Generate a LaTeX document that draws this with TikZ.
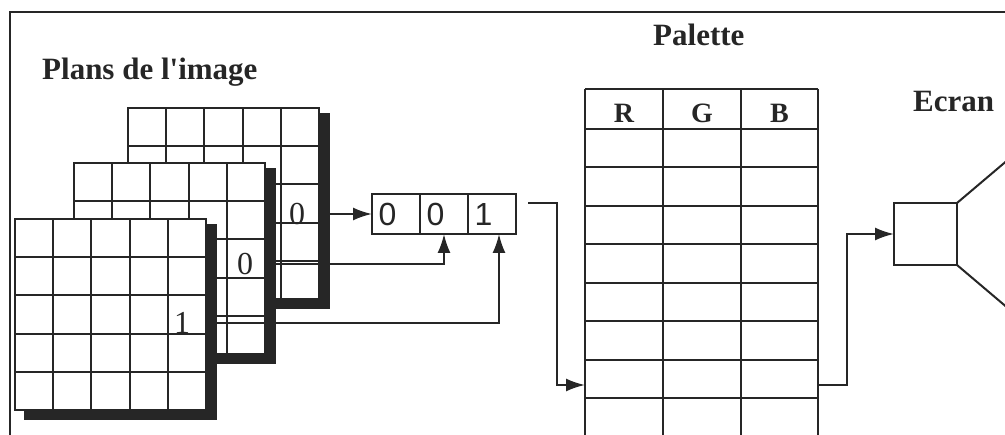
\documentclass[tikz,border=0pt]{standalone}
\usepackage{fontspec}
\setmainfont{Liberation Serif}
\setsansfont{Liberation Sans}
\usetikzlibrary{arrows.meta, positioning, calc}

\tikzset{
  trait/.style={line width=2pt, draw=black!85},
  fleche/.style={line width=2pt, draw=black!85, -{Latex[length=19pt,width=13pt]}},
  titre/.style={font=\fontsize{31}{36}\selectfont\bfseries, inner sep=0pt, text=black!85},
  entete/.style={font=\fontsize{28}{30}\selectfont\bfseries, inner sep=0pt, text=black!85},
  chiffre/.style={font=\fontsize{32}{34}\selectfont, inner sep=0pt, text=black!85},
  case/.style={draw=black!85, line width=2pt, minimum height=40pt, text width=35pt,
    inner xsep=6.5pt, align=left, outer sep=0pt, text=black!85,
    font=\sffamily\fontsize{32}{34}\selectfont},
  ombre/.style={fill=black!85},
}

% one plane of the image: name, x and y of the top left corner
\newcommand{\planimage}[3]{%
  \fill[ombre] (#2+9,#3+5) rectangle (#2+202,#3+201);
  \node[trait, fill=white, minimum size=191pt, inner sep=0pt, outer sep=0pt,
    anchor=north west] (#1) at (#2,#3) {};
  \foreach \k in {1,...,4} {
    \draw[trait] ($(#1.north west)+(\k*38.2,0)$) -- ++(0,191);
    \draw[trait] ($(#1.north west)+(0,\k*38.2)$) -- ++(191,0);
  }
}

\begin{document}
\begin{tikzpicture}[x=1pt, y=-1pt]
        \useasboundingbox (0,0) rectangle (1005,435);
        \clip (0,0) rectangle (1005,435);

        % Draw the frame
        \draw[line width=2.2pt, black!85] (10,440) -- (10,12) -- (1010,12);

        % Draw the planes of the image
        \planimage{plan3}{128}{108}
        \planimage{plan2}{74}{163}
        \planimage{plan1}{15}{219}
        \node[chiffre] (b0) at (297,214) {0};
        \node[chiffre] (m0) at (245,264) {0};
        \node[chiffre] (f1) at (182,323) {1};

        % Draw the pixel value
        \node[case] (r1) at (396,214) {0};
        \node[case, right=0pt of r1] (r2) {0};
        \node[case, right=0pt of r2] (r3) {1};

        \draw[fleche] (b0 -| plan3.east) -- (r1.west);
        \draw[fleche] (m0 -| plan2.east) -| (r2.south);
        \draw[fleche] (f1 -| plan1.east) -| ([xshift=7pt]r3.south);

        % Draw the palette table
        \foreach \x in {585,663,741,818}
            \draw[trait] (\x,89) -- (\x,440);
        \foreach \y in {89,129,167.5,206,244.5,283,321.5,360,398.5}
            \draw[trait] (585,\y) -- (818,\y);
        \node[entete, anchor=base] (pR) at (624,123) {R};
        \node[entete, anchor=base] (pG) at (702,123) {G};
        \node[entete, anchor=base] (pB) at (779.5,123) {B};

        \coordinate (regout) at (528,203);
        \coordinate (entree) at (585,385);
        \coordinate (sortie) at (818,385);
        \draw[fleche] (regout) -- ++(29,0) |- (entree);

        % Draw the screen
        \node[trait, minimum width=63pt, minimum height=62pt, outer sep=0pt] (ecran) at (925.5,234) {};
        \draw[fleche] (sortie) -- ++(29,0) |- (ecran.west);
        \draw[trait] (ecran.north east) -- ++(72,-61);
        \draw[trait] (ecran.south east) -- ++(72,61);

        % Label the parts
        \node[titre, anchor=base west] (tplans) at (42,80) {Plans de l\textquotesingle image};
        \node[titre, anchor=base west] (tpalette) at (653,46) {Palette};
        \node[titre, anchor=base west] (tecran) at (913,112) {Ecran};
    \end{tikzpicture}
\end{document}
